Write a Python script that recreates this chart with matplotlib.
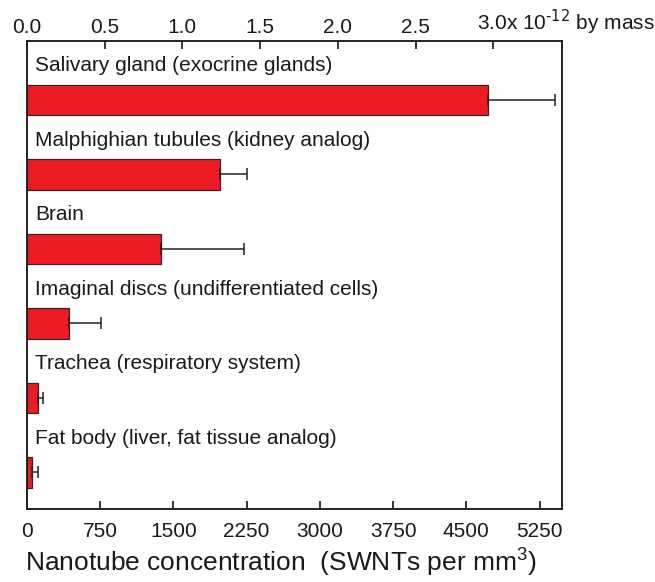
import matplotlib.pyplot as plt
import numpy as np

plt.rcParams['font.family'] = ['Liberation Sans', 'DejaVu Sans']

tissues = [
    "Salivary gland (exocrine glands)",
    "Malphighian tubules (kidney analog)",
    "Brain",
    "Imaginal discs (undifferentiated cells)",
    "Trachea (respiratory system)",
    "Fat body (liver, fat tissue analog)",
]
conc = [4720, 1975, 1375, 435, 110, 55]
err = [685, 278, 843, 323, 57, 55]

bottom_ticks = [0, 750, 1500, 2250, 3000, 3750, 4500, 5250]
top_ticks = [0.0, 0.5, 1.0, 1.5, 2.0, 2.5, 3.0]
mass_per_unit = 1592  # SWNTs/mm3 per 1e-12 by mass

fig = plt.figure(figsize=(6.55, 5.82), dpi=100)
ax = fig.add_axes([0.0412, 0.1254, 0.8168, 0.8042])

y = np.arange(len(tissues))
ax.barh(y, conc, height=0.41, color='#ED1C24', edgecolor='#3a2222', linewidth=0.9)
ax.errorbar(conc, y, xerr=[np.zeros(len(err)), err], fmt='none',
            ecolor='#222222', elinewidth=1.1, capsize=4, capthick=1.1)

for i, name in enumerate(tissues):
    ax.text(85, i - 0.46, name, fontsize=15, va='center', ha='left', color='#1a1a1a')

ax.set_xlim(0, 5480)
ax.set_ylim(5.49, -0.79)
ax.set_yticks([])
ax.set_xticks(bottom_ticks)
ax.tick_params(axis='x', direction='in', length=6, width=1.1, labelsize=15, pad=9,
               labelcolor='#1a1a1a')
ax.set_xlabel("Nanotube concentration  (SWNTs per mm$^{\\mathregular{3}}$)", fontsize=19,
              color='#1a1a1a')
ax.xaxis.set_label_coords(0.475, -0.078)

top = ax.twiny()
top.set_xlim(0, 5480 / mass_per_unit)
top.set_xticks(top_ticks)
top.set_xticklabels([f"{t:.1f}" for t in top_ticks[:-1]] + [""])
top.tick_params(axis='x', direction='in', length=6, width=1.1, labelsize=15, pad=3,
                labelcolor='#1a1a1a')
top.annotate("3.0x 10$^{\\text{-12}}$ by mass", xy=(3.0, 1),
             xycoords=('data', 'axes fraction'),
             xytext=(-11.5, 3), textcoords='offset points', ha='left', va='bottom',
             fontsize=15, color='#1a1a1a', annotation_clip=False)

for a in (ax, top):
    for s in a.spines.values():
        s.set_linewidth(1.2)
        s.set_color('#222222')

fig.savefig("out.png", dpi=100)
